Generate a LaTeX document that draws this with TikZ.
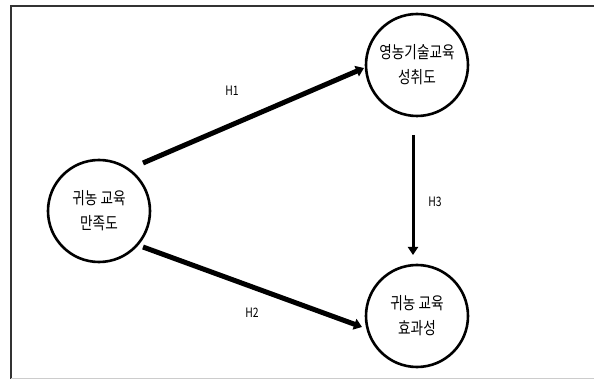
\documentclass[tikz,border=0pt]{standalone}
\usepackage{fontspec}
\newfontfamily\kr{Noto Sans CJK KR}
\usetikzlibrary{arrows.meta}
\begin{document}
\begin{tikzpicture}[x=1pt,y=-1pt,
  concept/.style={circle,draw,line width=2.6pt,minimum size=102pt,inner sep=0pt,
    align=center,font=\kr\fontsize{17}{25}\selectfont},
  thick arrow/.style={line width=5pt,-{Triangle[length=8pt,width=11pt]}},
  thin arrow/.style={line width=3pt,-{Triangle[length=8pt,width=10pt]}},
  hlabel/.style={font=\kr\fontsize{13}{15}\selectfont}]
\useasboundingbox (0,0) rectangle (594,379);
\fill[white] (0,0) rectangle (594,379);
% frame
\draw[line width=1.8pt,color=black!80] (594,6) -- (11,6) -- (11,379);
\draw[line width=1pt,color=black!20] (11,378) -- (594,378);
% nodes
\node[concept] (L) at (99,211) {\scalebox{0.8}[1]{귀농 교육}\\\scalebox{0.8}[1]{만족도}};
\node[concept] (T) at (417,65) {\scalebox{0.8}[1]{영농기술교육}\\\scalebox{0.8}[1]{성취도}};
\node[concept] (B) at (417,316) {\scalebox{0.8}[1]{귀농 교육}\\\scalebox{0.8}[1]{효과성}};
% connectors
\draw[thick arrow] ([shift={(44,-48)}]L.center) -- ([shift={(-53,3)}]T.center);
\draw[thick arrow] ([shift={(44,36)}]L.center) -- ([shift={(-55,11)}]B.center);
\draw[thin arrow] ([shift={(-4,70)}]T.center) -- ([shift={(-4,-61)}]B.center);
% labels
\node[hlabel] (h1) at (232,91) {\scalebox{0.8}[1]{H1}};
\node[hlabel] (h2) at (252,313) {\scalebox{0.8}[1]{H2}};
\node[hlabel] (h3) at (435,202) {\scalebox{0.8}[1]{H3}};
\end{tikzpicture}
\end{document}
